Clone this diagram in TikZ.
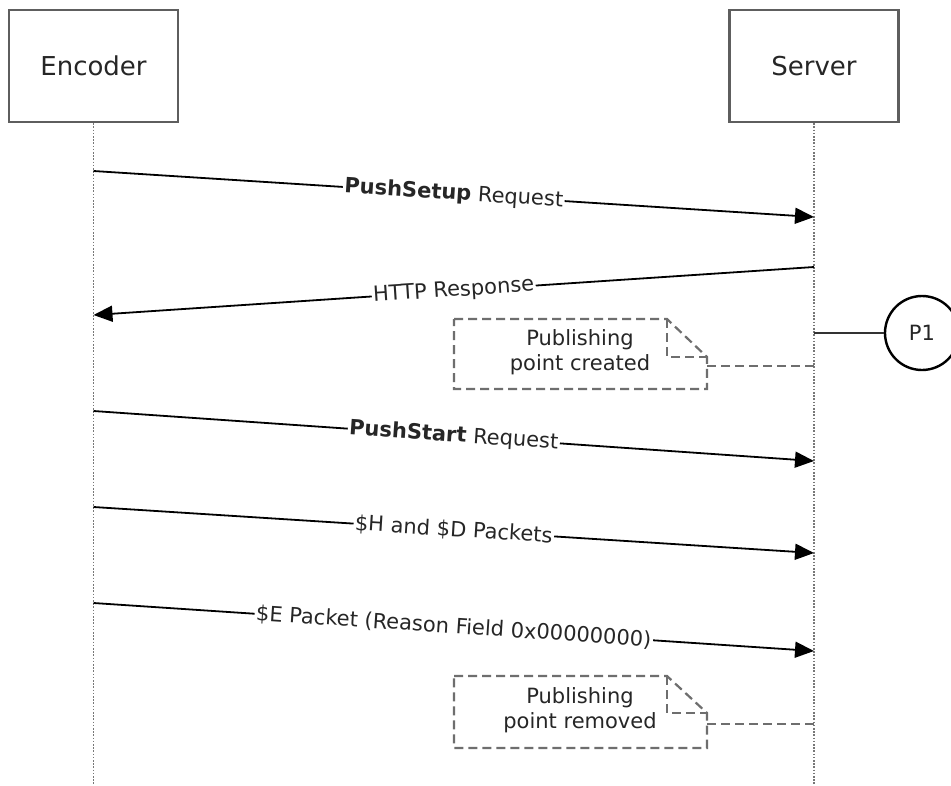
\documentclass[tikz,border=0pt]{standalone}
\usepackage{fontspec}
\setmainfont{DejaVu Sans}
\usetikzlibrary{arrows.meta}
\definecolor{boxgray}{HTML}{5E5E5E}
\definecolor{txtgray}{HTML}{262626}
\definecolor{notegray}{HTML}{6E6E6E}
\definecolor{lifegray}{HTML}{777777}
\begin{document}
\begin{tikzpicture}[x=1pt,y=-1pt,
  actor/.style={draw=boxgray,line width=2.4pt,fill=white,minimum width=169pt,minimum height=112pt,
    font=\fontsize{26}{30}\selectfont,text=txtgray},
  lifeline/.style={draw=lifegray,line width=1.8pt,dash pattern=on 1.6pt off 1.6pt},
  msg/.style={draw=black,line width=1.8pt,-{Triangle[length=19pt,width=16pt]}},
  lbl/.style={midway,sloped,fill=white,inner sep=1.5pt,font=\fontsize{21}{25}\selectfont,text=txtgray},
  notebox/.style={draw=notegray,line width=2.2pt,dash pattern=on 9pt off 5pt},
  notetext/.style={align=center,font=\fontsize{21}{25}\selectfont,text=txtgray,inner sep=0pt},
  pcircle/.style={circle,draw=black,line width=2.4pt,minimum size=74pt,inner sep=0pt,font=\fontsize{21}{25}\selectfont,text=txtgray}
]
\useasboundingbox[fill=white] (0,0) rectangle (951,785);

% actors
\node[actor] (enc) at (93.5,66) {Encoder};
\node[actor] (srv) at (814,66) {Server};
\coordinate (encend) at (93.5,785);
\coordinate (srvend) at (814,785);
\draw[lifeline] (enc.south) -- (encend);
\draw[lifeline] (srv.south) -- (srvend);

% message endpoints
\coordinate (m1s) at (93.5,171); \coordinate (m1e) at (814,217);
\coordinate (m2s) at (814,267);  \coordinate (m2e) at (93.5,315);
\coordinate (m3s) at (93.5,411); \coordinate (m3e) at (814,461);
\coordinate (m4s) at (93.5,507); \coordinate (m4e) at (814,553);
\coordinate (m5s) at (93.5,603); \coordinate (m5e) at (814,651);

\draw[msg] (m1s) -- node[lbl] (l1) {\textbf{PushSetup} Request} (m1e);
\draw[msg] (m2s) -- node[lbl] (l2) {HTTP Response} (m2e);
\draw[msg] (m3s) -- node[lbl] (l3) {\textbf{PushStart} Request} (m3e);
\draw[msg] (m4s) -- node[lbl] (l4) {\$H and \$D Packets} (m4e);
\draw[msg] (m5s) -- node[lbl] (l5) {\$E Packet (Reason Field 0x00000000)} (m5e);

% P1 state
\coordinate (p1s) at (814,333);
\node[pcircle] (p1) at (922,333) {P1};
\draw[line width=1.8pt,draw=black!80] (p1s) -- (p1.west);

% note 1
\draw[notebox] (454,319) -- (667,319) -- (707,357) -- (707,389) -- (454,389) -- cycle;
\draw[notebox] (667,319) -- (667,357) -- (707,357);
\coordinate (n1a) at (707,366); \coordinate (n1b) at (814,366);
\draw[notebox] (n1a) -- (n1b);
\node[notetext] (n1) at (580,352) {Publishing\\point created};

% note 2
\draw[notebox] (454,676) -- (667,676) -- (707,713) -- (707,748) -- (454,748) -- cycle;
\draw[notebox] (667,676) -- (667,713) -- (707,713);
\coordinate (n2a) at (707,724); \coordinate (n2b) at (814,724);
\draw[notebox] (n2a) -- (n2b);
\node[notetext] (n2) at (580,710) {Publishing\\point removed};
\end{tikzpicture}
\end{document}
